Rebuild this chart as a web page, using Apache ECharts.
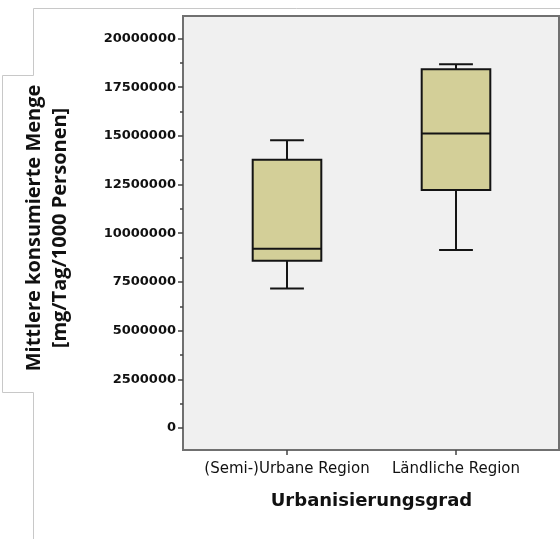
<!DOCTYPE html>
<html><head><meta charset="utf-8">
<script src="https://cdn.jsdelivr.net/npm/echarts@6/dist/echarts.min.js"></script>
<style>html,body{margin:0;padding:0;background:#fff}#c{width:560px;height:539px}</style>
</head><body><div id="c"></div>
<script>
// ---- data ----
const categories = ['(Semi-)Urbane Region', 'Ländliche Region'];
const whiskerLow  = [7160000, 9140000];
const q1          = [8590000, 12220000];
const median      = [9200000, 15120000];
const q3          = [13780000, 18420000];
const whiskerHigh = [14770000, 18680000];
const yTickValues = [0, 2500000, 5000000, 7500000, 10000000, 12500000, 15000000, 17500000, 20000000];
const yMinorTickValues = [1250000, 3750000, 6250000, 8750000, 11250000, 13750000, 16250000, 18750000];
const yRange = [-1130000, 21155000];
const xTitle = 'Urbanisierungsgrad';
const yTitle = 'Mittlere konsumierte Menge\n[mg/Tag/1000 Personen]';

const boxData = categories.map((c, i) => [i, whiskerLow[i], q1[i], median[i], q3[i], whiskerHigh[i]]);

function renderItem(params, api) {
  const x = api.value(0);
  const band = api.size([1, 0])[0];
  const bw = band * 0.406, cw = band * 0.2;
  const pLow = api.coord([x, api.value(1)]);
  const pQ1 = api.coord([x, api.value(2)]);
  const pMed = api.coord([x, api.value(3)]);
  const pQ3 = api.coord([x, api.value(4)]);
  const pHigh = api.coord([x, api.value(5)]);
  const cx = pLow[0];
  const ls = { stroke: '#141414', lineWidth: 2 };
  return {
    type: 'group',
    children: [
      { type: 'line', shape: { x1: cx, y1: pHigh[1], x2: cx, y2: pQ3[1] }, style: ls },
      { type: 'line', shape: { x1: cx, y1: pQ1[1], x2: cx, y2: pLow[1] }, style: ls },
      { type: 'line', shape: { x1: cx - cw / 2, y1: pHigh[1], x2: cx + cw / 2, y2: pHigh[1] }, style: ls },
      { type: 'line', shape: { x1: cx - cw / 2, y1: pLow[1], x2: cx + cw / 2, y2: pLow[1] }, style: ls },
      { type: 'rect', shape: { x: cx - bw / 2, y: pQ3[1], width: bw, height: pQ1[1] - pQ3[1] },
        style: { fill: '#d3cf98', stroke: '#141414', lineWidth: 2 } },
      { type: 'line', shape: { x1: cx - bw / 2, y1: pMed[1], x2: cx + bw / 2, y2: pMed[1] }, style: ls }
    ]
  };
}

const tickStyle = { color: '#444', width: 1.5 };
const chart = echarts.init(document.getElementById('c'), null, { renderer: 'canvas' });
chart.setOption({
  animation: false,
  backgroundColor: '#ffffff',
  graphic: [{
    type: 'polyline', z: -10, silent: true,
    shape: { points: [[560, 8.5], [33.5, 8.5], [33.5, 75.5], [2.5, 75.5], [2.5, 392.5], [33.5, 392.5], [33.5, 539]] },
    style: { stroke: '#c8c8c8', lineWidth: 1, fill: null }
  }],
  grid: [
    { left: 183, right: 1, top: 16, bottom: 89, show: true, backgroundColor: '#f0f0f0', borderColor: '#707070', borderWidth: 2 },
    { left: 202.5, right: 19.5, top: 16, bottom: 89 }
  ],
  xAxis: [
    { gridIndex: 0, type: 'value', show: false },
    {
      gridIndex: 1, type: 'category', data: categories, position: 'bottom',
      axisLine: { show: false, onZero: false },
      axisTick: { show: true, alignWithLabel: true, length: 5, lineStyle: tickStyle },
      axisLabel: { interval: 0, margin: 12, color: '#111', fontFamily: 'DejaVu Sans', fontSize: 15 },
      splitLine: { show: false },
      name: xTitle, nameLocation: 'middle', nameGap: 42,
      nameTextStyle: { color: '#111', fontFamily: 'DejaVu Sans', fontWeight: 'bold', fontSize: 18 }
    }
  ],
  yAxis: [
    { gridIndex: 0, type: 'value', show: false },
    {
      gridIndex: 1, type: 'value', min: yRange[0], max: yRange[1], offset: 19.5,
      axisLine: { show: false },
      axisTick: { show: true, length: 5, lineStyle: tickStyle, customValues: yTickValues },
      splitLine: { show: false },
      axisLabel: { customValues: yTickValues, formatter: v => String(v), margin: 7, color: '#111',
        fontFamily: 'DejaVu Sans', fontWeight: 'bold', fontSize: 13 },
      name: yTitle, nameLocation: 'middle', nameRotate: 90, nameGap: 110,
      nameTextStyle: { color: '#111', fontFamily: 'Open Sans', fontWeight: 'bold', fontSize: 20, lineHeight: 26,
        align: 'center', padding: [0, 0, 0, 10] }
    },
    {
      gridIndex: 1, type: 'value', min: yRange[0], max: yRange[1], offset: 19.5, position: 'left',
      axisLine: { show: false },
      axisTick: { show: true, length: 3, lineStyle: tickStyle, customValues: yMinorTickValues },
      axisLabel: { show: false },
      splitLine: { show: false }
    }
  ],
  series: [{
    type: 'custom', xAxisIndex: 1, yAxisIndex: 1,
    renderItem: renderItem,
    encode: { x: 0, y: [1, 2, 3, 4, 5] },
    data: boxData,
    z: 5
  }]
});
</script></body></html>
